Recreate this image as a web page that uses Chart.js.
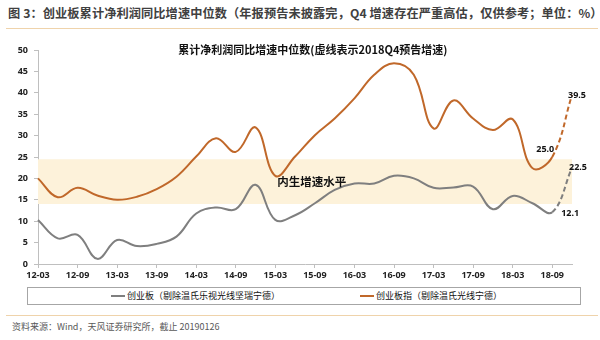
<!DOCTYPE html>
<html>
<head>
<meta charset="utf-8">
<script src="https://cdn.jsdelivr.net/npm/chart.js@4/dist/chart.umd.min.js"></script>
<style>
  body { margin: 0; width: 600px; height: 340px; background: #fff; position: relative; overflow: hidden;
         font-family: "Noto Sans CJK SC", "Noto Sans", sans-serif; }
  #title { position: absolute; left: 8px; top: 4px; font-size: 12.2px; letter-spacing: 0.1px; font-weight: bold; color: #404040; white-space: nowrap; }
  .rule { position: absolute; left: 6px; width: 592px; height: 1px; background: #efd3ab; }
  #chart { position: absolute; left: 0; top: 36px; }
  #legend { position: absolute; left: 27px; top: 287px; width: 554px; height: 18px; border: 1px solid #a6a6a6; box-sizing: border-box; }
  .item { position: absolute; top: 2px; font-size: 9px; color: #111; white-space: nowrap; line-height: 12px; }
  .item i { display: inline-block; width: 14px; height: 2px; vertical-align: middle; margin-right: 2px; margin-top: -2px; }
  #source { position: absolute; left: 12px; top: 320px; font-size: 9px; color: #595959; white-space: nowrap; }
</style>
</head>
<body>
<div id="title">图 3：创业板累计净利润同比增速中位数（年报预告未披露完，Q4 增速存在严重高估，仅供参考；单位：%）</div>
<div class="rule" style="top:28px"></div>
<canvas id="chart" width="600" height="248"></canvas>
<div id="legend"></div>
<div class="rule" style="top:315px"></div>
<div id="source">资料来源：Wind，天风证券研究所，截止 20190126</div>

<script>
const QUARTERS = ["12-03", "12-06", "12-09", "12-12", "13-03", "13-06", "13-09", "13-12",
                  "14-03", "14-06", "14-09", "14-12", "15-03", "15-06", "15-09", "15-12",
                  "16-03", "16-06", "16-09", "16-12", "17-03", "17-06", "17-09", "17-12",
                  "18-03", "18-06", "18-09", "18-12"];

// 创业板（剔除温氏乐视光线坚瑞宁德）
const GEM_BOARD = [10.3, 6.0, 6.8, 1.2, 5.6, 4.2, 4.7, 6.4,
                   11.8, 13.2, 12.8, 18.5, 10.3, 11.4, 14.2, 17.3,
                   18.8, 18.8, 20.6, 20.0, 17.8, 17.9, 18.1, 12.8,
                   15.9, 14.2, 12.1, 22.5];

// 创业板指（剔除温氏光线宁德）
const GEM_INDEX = [20.0, 15.6, 17.8, 16.0, 15.0, 15.7, 17.5, 20.4,
                   25.1, 29.4, 26.2, 31.9, 20.6, 25.1, 30.1, 34.0,
                   38.7, 44.2, 46.9, 44.2, 31.7, 38.2, 34.0, 31.3,
                   33.8, 22.4, 25.0, 39.5];

const SERIES_NAMES = ["创业板（剔除温氏乐视光线坚瑞宁德）", "创业板指（剔除温氏光线宁德）"];

// 内生增速水平 band (low, high)
const BAND = [14, 24.5];

const Y_TICKS = { min: 0, max: 50, step: 5 };
const INNER_TITLE = "累计净利润同比增速中位数(虚线表示2018Q4预告增速)";
const BAND_LABEL = "内生增速水平";

const GREY = "#7f7f7f";
const ORANGE = "#c0682a";
const LAST = QUARTERS.length - 1;

const tickFont = { family: "'Noto Sans', sans-serif", size: 9, weight: "bold" };

// dashed last segment = 2018Q4 预告
const forecastDash = ctx => ctx.p1DataIndex === LAST ? [5, 3] : undefined;

// data labels on the last two points: [datasetIndex, dataIndex, align, dx, dy]
const valueLabels = [
  [1, LAST - 1, "right", 2, -8],
  [1, LAST, "left", -4, 0],
  [0, LAST - 1, "left", 9, 1],
  [0, LAST, "left", -3, 0],
];

const annotations = {
  id: "annotations",
  afterDatasetsDraw(chart) {
    const { ctx, scales: { x, y }, chartArea } = chart;
    ctx.save();
    ctx.fillStyle = "#111";
    ctx.textBaseline = "middle";

    ctx.font = "bold 11px 'Noto Sans CJK SC'";
    ctx.textAlign = "center";
    ctx.fillText(INNER_TITLE, x.getPixelForValue(13.9), chartArea.top);

    ctx.font = "bold 11.5px 'Noto Sans CJK SC'";
    ctx.textAlign = "left";
    ctx.fillText(BAND_LABEL, x.getPixelForValue(12.1), y.getPixelForValue(19.2));

    ctx.font = "bold 9px 'Noto Sans'";
    valueLabels.forEach(([ds, i, align, dx, dy]) => {
      const pt = chart.getDatasetMeta(ds).data[i];
      const v = chart.data.datasets[ds].data[i];
      ctx.textAlign = align;
      ctx.fillText(v.toFixed(1), pt.x + dx, pt.y + dy);
    });
    ctx.restore();
  },
};

const lineStyle = color => ({
  borderColor: color,
  backgroundColor: color,
  borderWidth: 2,
  pointRadius: 0,
  tension: 0.4,
  fill: false,
  segment: { borderDash: forecastDash },
});

const chart = new Chart(document.getElementById("chart"), {
  type: "line",
  data: {
    labels: QUARTERS,
    datasets: [
      { label: SERIES_NAMES[0], data: GEM_BOARD, ...lineStyle(GREY) },
      { label: SERIES_NAMES[1], data: GEM_INDEX, ...lineStyle(ORANGE) },
      {
        label: BAND_LABEL,
        data: [{ x: QUARTERS[0], y: BAND[1] }, { x: QUARTERS[LAST], y: BAND[1] }],
        borderWidth: 0,
        borderColor: "transparent",
        backgroundColor: "#fdf2da",
        pointRadius: 0,
        tension: 0,
        fill: { value: BAND[0] },
      },
    ],
  },
  options: {
    responsive: false,
    animation: false,
    layout: { padding: { top: 14, right: 28, bottom: 0, left: 0 } },
    plugins: { legend: { display: false }, tooltip: { enabled: false } },
    scales: {
      x: {
        type: "category",
        offset: false,
        border: { color: "#bfbfbf" },
        grid: { drawOnChartArea: false, tickLength: 4, color: "#bfbfbf" },
        ticks: {
          autoSkip: false,
          maxRotation: 0,
          padding: 2,
          color: "#222",
          font: tickFont,
          callback(v, i) { return i % 2 === 0 ? this.getLabelForValue(v) : null; },
        },
        afterFit(s) { s.height = 20; },
      },
      y: {
        min: Y_TICKS.min,
        max: Y_TICKS.max,
        border: { color: "#bfbfbf" },
        grid: { drawOnChartArea: false, tickLength: 4, color: "#bfbfbf" },
        ticks: { stepSize: Y_TICKS.step, padding: 6, color: "#222", font: tickFont },
        afterFit(s) { s.width = 38; },
      },
    },
  },
  plugins: [annotations],
});

// legend box under the chart
const legendLeft = [83, 332];
const legend = document.getElementById("legend");
chart.data.datasets.slice(0, 2).forEach((ds, k) => {
  const item = document.createElement("div");
  item.className = "item";
  item.style.left = legendLeft[k] + "px";
  item.innerHTML = `<i style="background:${ds.borderColor}"></i>${ds.label}`;
  legend.appendChild(item);
});
</script>
</body>
</html>
